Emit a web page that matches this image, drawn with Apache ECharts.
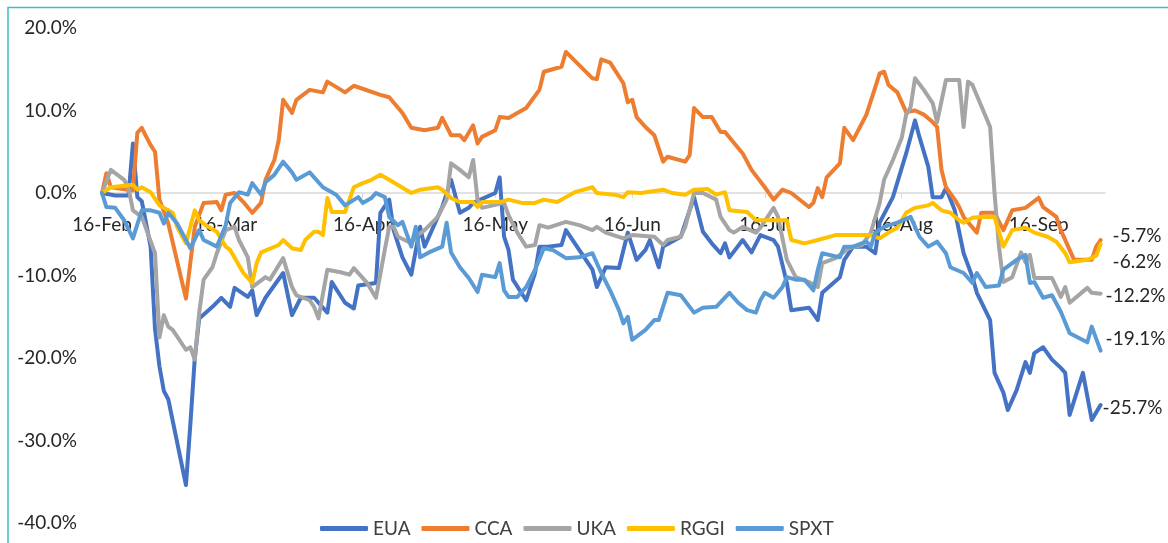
<!DOCTYPE html>
<html>
<head>
<meta charset="utf-8">
<title>Carbon allowances vs SPXT</title>
<script src="https://cdn.jsdelivr.net/npm/echarts@6/dist/echarts.min.js"></script>
<style>
  html, body { margin: 0; padding: 0; background: #fff; }
  #chart { width: 1168px; height: 543px; }
</style>
</head>
<body>
<div id="chart"></div>
<script>
// x = days since 16-Feb-2022, y = % change
const tickDays = [0, 28, 59, 89, 120, 150, 181, 212];
const tickLabels = ['16-Feb', '16-Mar', '16-Apr', '16-May', '16-Jun', '16-Jul', '16-Aug', '16-Sep'];
const seriesNames = ['EUA', 'CCA', 'UKA', 'RGGI', 'SPXT'];

const euaData = [[0,0],[3,-0.3],[6,-0.3],[7,6.0],[8,-0.5],[9,-1.0],[11,-6.5],[12,-16.5],[13,-21],[14,-24],[15,-25],[19,-35.4],[20,-28],[21,-20],[22,-15.2],[25,-13.8],[27,-12.7],[29,-13.8],[30,-11.5],[33,-12.6],[34,-11.8],[35,-14.8],[37,-12.7],[41,-9.7],[43,-14.8],[45,-12.7],[48,-12.7],[51,-14.5],[52,-10.8],[55,-13.3],[57,-14],[58,-11.2],[62,-10.9],[63,-2.4],[65,-0.8],[66,-4.5],[68,-7.8],[70,-9.9],[72,-4.1],[73,-6.5],[77,-1.7],[79,1.6],[81,-2.4],[83,-1.8],[84,-1.2],[89,0],[90,1.9],[91,-5.3],[92,-6.9],[93,-10.5],[96,-13],[98,-9.7],[99,-6.5],[101,-6.5],[104,-6.3],[105,-4.5],[108,-6.9],[111,-9.3],[112,-11.4],[114,-9],[117,-9.1],[119,-4.8],[121,-8.1],[123,-6.9],[124,-5.7],[126,-9],[127,-6.5],[131,-5.3],[134,-0.5],[136,-4.7],[138,-6.1],[140,-7.3],[141,-6.1],[142,-7.8],[145,-5.7],[147,-7.2],[149,-5.1],[152,-5.7],[153,-6.5],[155,-10.9],[156,-14.2],[160,-13.9],[162,-15.4],[163,-12.1],[167,-10.2],[168,-8.1],[170,-6.5],[173,-6.5],[175,-7.3],[176,-3.6],[179,-0.5],[182,4.8],[183,6.8],[184,8.8],[185,6.8],[187,3.2],[188,-0.5],[190,-0.5],[191,0.6],[193,-2.1],[195,-7.3],[197,-10.2],[198,-12.1],[201,-15.4],[202,-21.8],[204,-24.2],[205,-26.3],[207,-23.9],[209,-20.5],[210,-21.8],[211,-19.4],[213,-18.7],[215,-20.2],[217,-21.2],[218,-21.8],[219,-26.9],[222,-21.8],[224,-27.5],[226,-25.7]];

const ccaData = [[0,0],[1,2.4],[2,0.7],[7,0.3],[8,7.3],[9,7.9],[11,5.8],[12,5.0],[13,-0.8],[15,-3.7],[19,-12.8],[21,-4.1],[23,-1.2],[26,-1.1],[27,-2.1],[28,-0.2],[30,0],[32,-1.1],[34,-2.4],[36,-1.2],[37,1.6],[39,4.0],[40,6.4],[41,11.3],[43,9.7],[44,11.3],[47,12.5],[50,12.2],[51,13.5],[55,12.2],[57,13.0],[63,11.9],[65,11.6],[68,9.7],[70,7.9],[73,7.6],[76,7.9],[77,9.1],[79,7.0],[81,7.0],[82,6.4],[84,8.2],[85,6.0],[86,6.8],[89,7.6],[90,9.2],[92,9.1],[96,10.3],[99,12.5],[100,14.7],[104,15.3],[105,17.1],[108,15.5],[111,13.9],[112,13.8],[113,16.2],[115,15.8],[118,13.3],[119,11.0],[120,11.3],[121,9.2],[123,8.0],[125,7.0],[127,3.8],[128,4.4],[132,3.8],[133,4.6],[134,10.3],[136,9.2],[138,9.2],[140,7.4],[141,7.4],[145,4.8],[147,2.8],[150,0.7],[152,-0.8],[154,0.4],[156,0],[160,-1.7],[161,-1.2],[162,0.6],[163,-0.5],[164,1.9],[167,3.6],[168,7.9],[170,6.4],[173,9.5],[175,12.8],[176,14.5],[177,14.7],[178,13.1],[180,12.2],[182,9.8],[184,10.0],[186,9.5],[188,8.6],[189,8.0],[190,2.8],[191,0.7],[193,-0.8],[194,-1.7],[195,-2.9],[198,-4.8],[199,-2.4],[202,-2.4],[204,-4.5],[206,-2.1],[209,-1.8],[212,-0.6],[213,-1.7],[216,-2.9],[217,-4.5],[219,-6.9],[220,-8.1],[224,-8.1],[225,-6.5],[226,-5.7]];

const ukaData = [[0,0],[2,2.8],[5,1.6],[6,0.6],[7,-2.1],[9,-2.9],[12,-7.3],[13,-17.5],[14,-14.8],[15,-16.2],[16,-16.6],[19,-19],[20,-18.7],[21,-20.2],[22,-14.5],[23,-10.5],[25,-9],[26,-7.3],[28,-4.5],[30,-4.1],[31,-5.7],[33,-7.8],[34,-11.4],[37,-10.2],[38,-10.5],[41,-7.9],[43,-11.4],[44,-12.4],[47,-13],[48,-13.8],[49,-15.2],[51,-9.3],[54,-9.6],[56,-9.9],[57,-9.1],[60,-10.9],[62,-12.7],[64,-6.9],[65,-4.1],[66,-4.1],[67,-5.3],[70,-6.1],[71,-5.3],[73,-4.5],[76,-2.9],[78,-0.8],[79,3.6],[81,2.8],[83,1.9],[84,4.0],[85,-0.8],[86,-1.8],[91,-1.2],[92,-2.7],[94,-4.8],[96,-6.5],[98,-6.3],[99,-3.9],[101,-4.2],[105,-3.5],[108,-3.9],[111,-4.5],[112,-4.1],[114,-4.8],[118,-5.5],[120,-5.1],[125,-5.3],[127,-6.3],[128,-5.7],[131,-5.3],[132,-4.1],[134,0],[136,0],[139,-0.8],[140,-2.9],[142,-4.5],[143,-4.8],[145,-4.1],[148,-4.8],[149,-4.2],[152,-1.8],[153,-2.9],[155,-8.1],[157,-10.2],[160,-10.8],[162,-11.4],[163,-8.5],[166,-7.9],[169,-6.7],[172,-6.3],[174,-4.8],[176,-1.2],[177,1.6],[179,4.0],[181,6.7],[182,9.5],[183,10.4],[184,13.9],[186,12.5],[188,10.9],[189,8.6],[191,13.7],[194,13.7],[195,8.0],[196,13.5],[197,13.1],[201,8.0],[202,0],[203,-6.5],[204,-10.8],[206,-10.2],[208,-7.2],[209,-8.4],[210,-7.5],[211,-10.3],[215,-10.3],[217,-12.6],[218,-11.4],[219,-13.3],[223,-11.5],[224,-12.1],[226,-12.2]];

const rggiData = [[0,0],[2,0.7],[7,1.0],[8,0.4],[9,0.7],[11,0.1],[13,-1.5],[16,-2.4],[17,-4.1],[19,-6.1],[21,-2.1],[22,-3.3],[24,-4.1],[26,-4.7],[28,-6.5],[29,-6.9],[32,-9.7],[34,-10.9],[35,-8.5],[36,-7.2],[40,-6.3],[41,-5.7],[43,-6.7],[45,-6.9],[46,-5.7],[48,-4.7],[49,-4.7],[50,-5.1],[51,-0.6],[52,-2.3],[55,-2.3],[57,0.7],[59,1.2],[61,1.6],[63,2.2],[65,1.6],[70,0],[72,0.4],[76,0.7],[77,0.4],[79,-0.6],[81,-1.1],[84,-1.1],[85,-1.7],[86,-1.1],[90,-1.1],[92,-0.8],[95,-1.2],[98,-1.2],[100,-0.8],[103,-1.1],[105,-0.5],[107,0.1],[111,0.7],[112,0],[116,-0.2],[118,-0.5],[119,0.1],[122,0],[127,0.4],[129,0],[132,-0.2],[134,0.4],[137,0.5],[139,-0.2],[141,0.1],[142,-2.1],[146,-2.3],[148,-3.3],[155,-3.3],[156,-5.7],[159,-6.1],[162,-5.7],[166,-5.1],[174,-5.1],[176,-5.5],[178,-4.8],[180,-4.2],[182,-2.4],[184,-1.8],[187,-1.5],[188,-1.2],[190,-2.1],[192,-2.4],[194,-3.3],[195,-3.6],[197,-3.0],[199,-2.9],[202,-2.9],[204,-6.5],[206,-4.5],[209,-4.2],[211,-4.8],[214,-5.3],[216,-5.9],[218,-7.3],[219,-8.4],[223,-8.1],[225,-7.6],[226,-6.2]];

const spxtData = [[0,0],[1,-1.7],[3,-1.8],[5,-3.3],[7,-5.5],[9,-2.1],[11,-2.1],[13,-2.4],[14,-3.7],[15,-2.4],[17,-3.7],[20,-6.7],[22,-4.5],[23,-5.7],[26,-6.5],[28,-3.9],[29,-1.2],[31,0.1],[33,-0.2],[34,1.2],[36,-0.2],[37,1.3],[39,2.2],[41,3.8],[43,2.5],[44,1.6],[47,2.5],[50,0.7],[51,0.4],[53,-0.2],[55,-1.5],[58,-0.5],[59,-1.2],[61,-0.6],[62,0],[64,-0.5],[65,-2.9],[67,-3.9],[68,-3.5],[70,-6.5],[71,-4.1],[72,-7.8],[74,-7.2],[77,-6.5],[78,-3.6],[79,-7.2],[81,-9],[83,-10.3],[85,-12],[86,-9.9],[89,-10.2],[90,-8.5],[91,-11.8],[92,-12.6],[94,-12.6],[96,-11.4],[98,-9.3],[100,-6.7],[102,-6.9],[105,-7.9],[108,-7.8],[111,-7.3],[113,-9.7],[115,-11.8],[117,-14.2],[118,-15.8],[119,-15],[120,-17.8],[123,-16.6],[125,-15.4],[126,-15.4],[128,-12.1],[131,-12.4],[133,-13.8],[134,-14.5],[136,-13.9],[139,-13.8],[142,-12.1],[144,-13.3],[146,-14.2],[148,-14.5],[149,-13],[150,-12.1],[152,-12.7],[154,-11.4],[155,-10.2],[157,-10.5],[159,-10.5],[161,-11.8],[162,-9.3],[163,-7.3],[167,-7.8],[168,-6.5],[170,-6.5],[173,-5.9],[174,-6.5],[175,-4.8],[177,-4.1],[180,-3.6],[183,-2.9],[185,-5.3],[187,-6.5],[189,-5.9],[191,-7.3],[192,-9],[195,-9.7],[197,-10.9],[198,-9.7],[200,-11.4],[203,-11.2],[204,-9.3],[207,-8.1],[209,-7.5],[210,-10.9],[211,-10.8],[213,-12.7],[215,-12.4],[217,-14.4],[219,-17],[223,-18.1],[224,-16.2],[226,-19.1]];

const FONT = 'Lato, "Open Sans", sans-serif';
const colors = ['#4472C4', '#ED7D31', '#A5A5A5', '#FFC000', '#5B9BD5'];
const allData = [euaData, ccaData, ukaData, rggiData, spxtData];
// where the end labels sit relative to the last point
const endOffsets = [[2, 3], [12, -4], [5, 2], [12, 18], [5, -12]];

const chart = echarts.init(document.getElementById('chart'));

chart.setOption({
    animation: false,
    backgroundColor: '#fff',
    color: colors,
    grid: { left: 102, right: 63, top: 28, bottom: 20, outerBoundsMode: 'none' },
    graphic: [{
        type: 'polyline',
        shape: { points: [[8, 543], [8, 7.5], [1168, 7.5]] },
        style: { stroke: '#3CBFBF', lineWidth: 1.5, fill: null }
    }],
    legend: {
        data: seriesNames,
        left: 320,
        top: 519,
        padding: 0,
        icon: 'roundRect',
        itemWidth: 48,
        itemHeight: 5,
        itemGap: 11,
        textStyle: { fontFamily: FONT, fontSize: 19, color: '#404040' }
    },
    xAxis: {
        type: 'value',
        min: 0,
        max: 227,
        offset: -330,
        splitLine: { show: false },
        axisLine: { onZero: false, lineStyle: { color: '#D9D9D9', width: 1.5 } },
        axisTick: { show: true, customValues: tickDays, length: 5, lineStyle: { color: '#D9D9D9' } },
        axisLabel: {
            customValues: tickDays,
            margin: 22,
            fontFamily: FONT,
            fontSize: 19,
            color: '#262626',
            formatter: function (v) {
                const i = tickDays.indexOf(v);
                return i >= 0 ? tickLabels[i] : '';
            }
        }
    },
    yAxis: {
        type: 'value',
        min: -40,
        max: 20,
        interval: 10,
        splitLine: { show: false },
        axisLine: { show: false },
        axisTick: { show: false },
        axisLabel: {
            margin: 25,
            fontFamily: FONT,
            fontSize: 19,
            color: '#262626',
            formatter: function (v) { return v.toFixed(1) + '%'; }
        }
    },
    series: seriesNames.map(function (name, i) {
        return {
            name: name,
            type: 'line',
            data: allData[i],
            symbol: 'none',
            lineStyle: { width: 4, color: colors[i], cap: 'round', join: 'round' },
            endLabel: {
                show: true,
                distance: 0,
                offset: endOffsets[i],
                fontFamily: FONT,
                fontSize: 19,
                color: '#262626',
                formatter: function (p) { return p.value[1].toFixed(1) + '%'; }
            }
        };
    })
});
</script>
</body>
</html>
